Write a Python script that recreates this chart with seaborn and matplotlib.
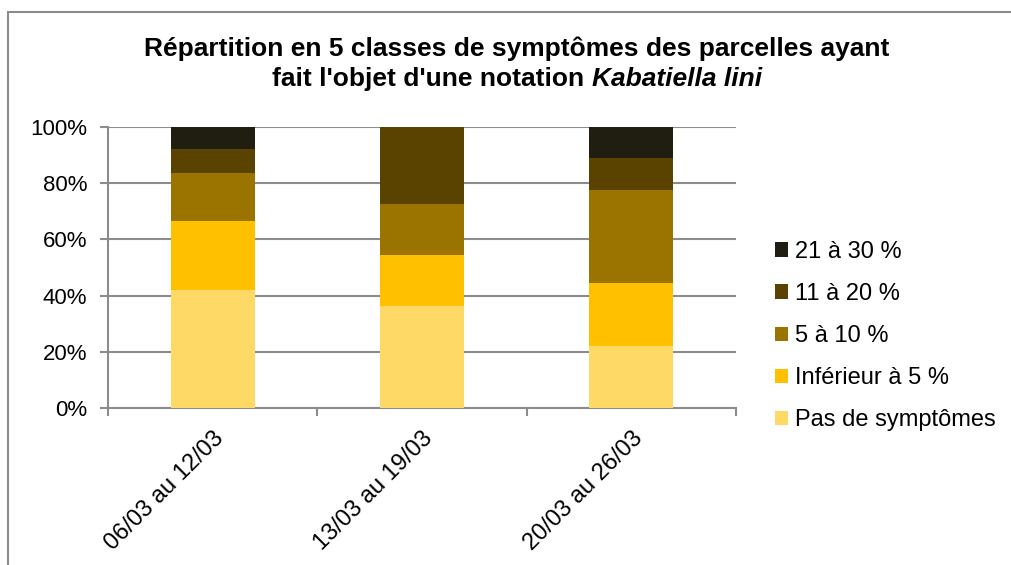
import matplotlib
matplotlib.use("Agg")
import matplotlib.pyplot as plt
from matplotlib.patches import Patch, Rectangle
import matplotlib.transforms as mtransforms
import numpy as np
import pandas as pd
import seaborn as sns

periods = ["06/03 au 12/03", "13/03 au 19/03", "20/03 au 26/03"]
classes = ["Pas de symptômes", "Inférieur à 5 %", "5 à 10 %", "11 à 20 %", "21 à 30 %"]
pas_de_symptomes = [42.0, 36.2, 22.1]
inferieur_5 = [24.7, 18.1, 22.3]
cinq_a_10 = [17.1, 18.2, 33.1]
onze_a_20 = [8.2, 27.5, 11.3]
vingt_et_un_a_30 = [8.0, 0.0, 11.2]
colors = ["#FFD966", "#FFC000", "#9B7400", "#5A4300", "#201E11"]

series = [pas_de_symptomes, inferieur_5, cinq_a_10, onze_a_20, vingt_et_un_a_30]

sns.set_theme(style="white")
plt.rcParams["font.family"] = ["Liberation Sans", "DejaVu Sans"]
plt.rcParams["text.color"] = "black"

W, H = 1011, 565
fig = plt.figure(figsize=(W / 100, H / 100), dpi=100)
ax = fig.add_axes([108 / W, 1 - 408 / H, 628 / W, 281 / H])

cum = np.cumsum(np.array(series), axis=0)
# draw from top layer down (cumulative overlay)
for i in range(len(classes) - 1, -1, -1):
    df = pd.DataFrame({"period": periods, "value": cum[i]})
    sns.barplot(data=df, x="period", y="value", color=colors[i], width=0.4,
                saturation=1, ax=ax, linewidth=0, zorder=3)

ax.set_ylim(0, 100)
ax.set_xlim(-0.5, 2.5)
ax.set_yticks([0, 20, 40, 60, 80, 100])
ax.set_yticklabels([f"{v}%" for v in [0, 20, 40, 60, 80, 100]], fontsize=16, color="black")
ax.set_xticks(range(3))
ax.set_xticklabels(periods, rotation=45, ha="right", rotation_mode="anchor", fontsize=17, color="black")
shift = mtransforms.ScaledTranslation(-4 / 100, 0, fig.dpi_scale_trans)
for lab in ax.get_xticklabels():
    lab.set_transform(lab.get_transform() + shift)
ax.set_xlabel("")
ax.set_ylabel("")
ax.grid(axis="y", color="#8C8C8C", linewidth=1.5, zorder=0)
ax.set_axisbelow(True)
for s in ["top", "right"]:
    ax.spines[s].set_visible(False)
for s in ["left", "bottom"]:
    ax.spines[s].set_color("#8C8C8C")
    ax.spines[s].set_linewidth(1.5)
ax.tick_params(axis="y", which="major", length=6, width=1.5, color="#8C8C8C", left=True, pad=9)
ax.tick_params(axis="x", which="major", length=0, pad=14)
ax.set_xticks([-0.5, 0.5, 1.5, 2.5], minor=True)
ax.tick_params(axis="x", which="minor", length=6, width=1.5, color="#8C8C8C", bottom=True)

# Title
fs = 19
fig.text(517 / W, 1 - 49 / H, "Répartition en 5 classes de symptômes des parcelles ayant",
         ha="center", va="center", fontsize=fs, fontweight="bold", color="black")
renderer = fig.canvas.get_renderer()
y2 = 1 - 79 / H
t1 = fig.text(0, y2, "fait l'objet d'une notation", ha="left", va="center",
              fontsize=fs, fontweight="bold", color="black")
t2 = fig.text(0, y2, "Kabatiella lini", ha="left", va="center",
              fontsize=fs, fontweight="bold", fontstyle="italic", color="black")
w1 = t1.get_window_extent(renderer).width
w2 = t2.get_window_extent(renderer).width
space = fs * 100 / 72 * 0.278
total = w1 + space + w2
x0 = 517 - total / 2
t1.set_x(x0 / W)
t2.set_x((x0 + w1 + space) / W)

handles = [Patch(facecolor=colors[i], edgecolor="none") for i in range(len(classes) - 1, -1, -1)]
labels = [classes[i] for i in range(len(classes) - 1, -1, -1)]
leg = fig.legend(handles, labels, loc="center left", bbox_to_anchor=(775 / W, 1 - 336 / H), frameon=False,
                 fontsize=17, handlelength=0.55, handleheight=0.55, handletextpad=0.3, labelspacing=0.85,
                 borderaxespad=0, borderpad=0)
for t in leg.get_texts():
    t.set_color("black")

fig.patches.append(Rectangle((8 / W, -0.1), 1.2, 1.1 - 12.5 / H, transform=fig.transFigure,
                             fill=False, edgecolor="#8C8C8C", linewidth=1.5))

fig.savefig("out.png", dpi=100, facecolor="white")
